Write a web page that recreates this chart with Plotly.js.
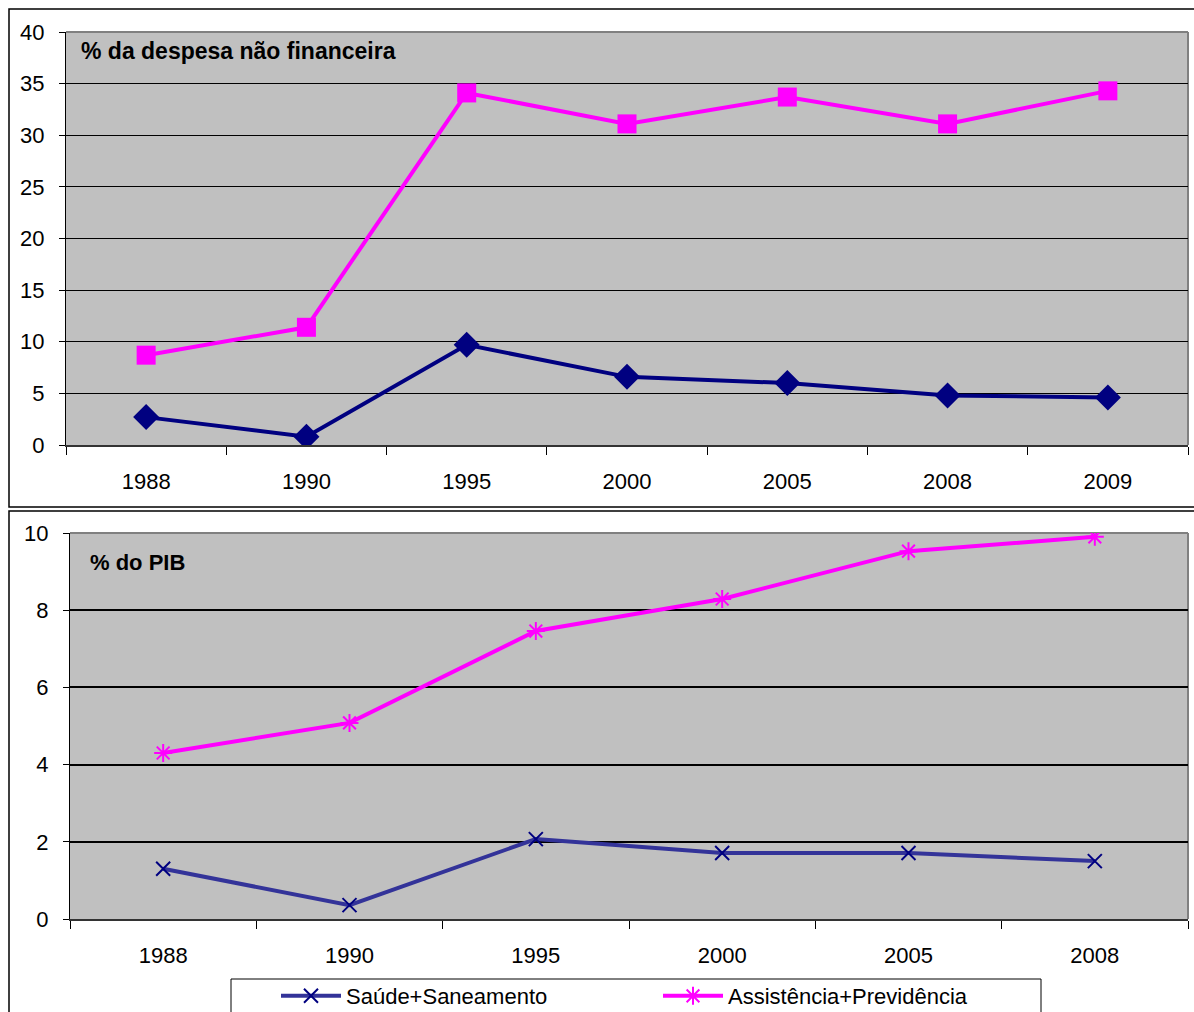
<!DOCTYPE html>
<html>
<head>
<meta charset="utf-8">
<script src="https://cdn.plot.ly/plotly-3.0.1.min.js"></script>
<style>
  html, body { margin: 0; padding: 0; background: #ffffff; overflow: hidden; }
  #chart { width: 1194px; height: 1012px; }
</style>
</head>
<body>
<div id="chart"></div>
<script>
// Gasto social: % da despesa não financeira (anos 1988–2009)
const anosDespesa = ['1988', '1990', '1995', '2000', '2005', '2008', '2009'];
const saudeDespesa = [2.7, 0.8, 9.7, 6.6, 6.0, 4.8, 4.6];
const assistDespesa = [8.7, 11.4, 34.1, 31.1, 33.7, 31.1, 34.3];

// Gasto social: % do PIB (anos 1988–2008)
const anosPib = ['1988', '1990', '1995', '2000', '2005', '2008'];
const saudePib = [1.3, 0.36, 2.07, 1.71, 1.71, 1.5];
const assistPib = [4.3, 5.08, 7.46, 8.29, 9.53, 9.9];

const nomeSaude = 'Saúde+Saneamento';
const nomeAssist = 'Assistência+Previdência';
const tituloDespesa = '% da despesa não financeira';
const tituloPib = '% do PIB';

const W = 1194, H = 1012;
const px = v => v / W;          // horizontal pixel -> paper fraction
const py = v => 1 - v / H;      // vertical pixel (from top) -> paper fraction

const FONT = 'Liberation Sans';
const NAVY = '#000080';
const NAVY_LINE = '#333399';
const PINK = '#ff00ff';

const traces = [
  {
    x: anosDespesa, y: assistDespesa, xaxis: 'x', yaxis: 'y',
    type: 'scatter', mode: 'lines+markers', name: nomeAssist, showlegend: false,
    line: { color: PINK, width: 4 },
    marker: { symbol: 'square', size: 19, color: PINK }
  },
  {
    x: anosDespesa, y: saudeDespesa, xaxis: 'x', yaxis: 'y',
    type: 'scatter', mode: 'lines+markers', name: nomeSaude, showlegend: false,
    line: { color: NAVY, width: 4 },
    marker: { symbol: 'diamond', size: 20, color: NAVY }
  },
  {
    x: anosPib, y: saudePib, xaxis: 'x2', yaxis: 'y2',
    type: 'scatter', mode: 'lines+markers', name: nomeSaude,
    line: { color: NAVY_LINE, width: 4 },
    marker: { symbol: 'x-thin-open', size: 14, color: NAVY, line: { color: NAVY, width: 2 } }
  },
  {
    x: anosPib, y: assistPib, xaxis: 'x2', yaxis: 'y2',
    type: 'scatter', mode: 'lines+markers', name: nomeAssist,
    line: { color: PINK, width: 4 },
    marker: { symbol: 'asterisk-open', size: 15, color: PINK, line: { color: PINK, width: 2 } }
  }
];

const eixoX = {
  type: 'category',
  tickson: 'boundaries',
  ticks: 'outside', ticklen: 8, tickwidth: 1, tickcolor: '#000000',
  showline: true, linecolor: '#333333', linewidth: 2,
  showgrid: false, zeroline: false,
  ticklabelstandoff: 16,
  tickfont: { family: FONT, size: 22, color: '#000000' },
  fixedrange: true
};

const eixoY = {
  ticks: 'outside', ticklen: 6, tickwidth: 1, tickcolor: '#000000',
  showline: true, linecolor: '#000000', linewidth: 1,
  showgrid: true, gridcolor: '#000000',
  zeroline: false,
  ticklabelstandoff: 10,
  tickfont: { family: FONT, size: 22, color: '#000000' },
  fixedrange: true
};

const layout = {
  width: W, height: H,
  margin: { l: 0, r: 0, t: 0, b: 0, autoexpand: false },
  paper_bgcolor: '#ffffff',
  plot_bgcolor: '#c0c0c0',
  font: { family: FONT, color: '#000000' },
  xaxis: Object.assign({}, eixoX, {
    domain: [px(66), px(1188)], anchor: 'y', range: [-0.5, anosDespesa.length - 0.5]
  }),
  yaxis: Object.assign({}, eixoY, {
    domain: [py(445), py(32)], anchor: 'x',
    range: [0, 40], dtick: 5, gridwidth: 1
  }),
  xaxis2: Object.assign({}, eixoX, {
    domain: [px(70), px(1188)], anchor: 'y2', range: [-0.5, anosPib.length - 0.5]
  }),
  yaxis2: Object.assign({}, eixoY, {
    domain: [py(919), py(533)], anchor: 'x2',
    range: [0, 10], dtick: 2, gridwidth: 2
  }),
  showlegend: true,
  legend: {
    orientation: 'h',
    x: px(276), xanchor: 'left',
    y: py(975), yanchor: 'top',
    bgcolor: 'rgba(255,255,255,0)', borderwidth: 0,
    font: { family: FONT, size: 22, color: '#000000' },
    itemwidth: 60,
    entrywidth: 307, entrywidthmode: 'pixels',
    traceorder: 'normal'
  },
  annotations: [
    {
      text: '<b>' + tituloDespesa + '</b>', xref: 'paper', yref: 'paper',
      x: px(79), y: py(51), xanchor: 'left', yanchor: 'middle', showarrow: false,
      font: { family: FONT, size: 23, color: '#000000' }
    },
    {
      text: '<b>' + tituloPib + '</b>', xref: 'paper', yref: 'paper',
      x: px(88), y: py(562), xanchor: 'left', yanchor: 'middle', showarrow: false,
      font: { family: FONT, size: 22, color: '#000000' }
    }
  ],
  shapes: [
    // outer frames around each chart
    { type: 'rect', xref: 'paper', yref: 'paper', x0: px(9), x1: 1.02, y0: py(507), y1: py(9),
      line: { color: '#000000', width: 1.5 }, fillcolor: 'rgba(0,0,0,0)', layer: 'below' },
    { type: 'rect', xref: 'paper', yref: 'paper', x0: px(9), x1: 1.02, y0: -0.05, y1: py(511),
      line: { color: '#000000', width: 1.5 }, fillcolor: 'rgba(0,0,0,0)', layer: 'below' },
    // legend box
    { type: 'rect', xref: 'paper', yref: 'paper', x0: px(231), x1: px(1041), y0: -0.05, y1: py(979),
      line: { color: '#000000', width: 1 }, fillcolor: '#ffffff', layer: 'below' },
    // gray top and right plot borders
    { type: 'line', xref: 'x domain', yref: 'y domain', x0: 0, x1: 1, y0: 1, y1: 1,
      line: { color: '#808080', width: 2 }, layer: 'below' },
    { type: 'line', xref: 'x domain', yref: 'y domain', x0: 1, x1: 1, y0: 0, y1: 1,
      line: { color: '#808080', width: 2 }, layer: 'below' },
    { type: 'line', xref: 'x2 domain', yref: 'y2 domain', x0: 0, x1: 1, y0: 1, y1: 1,
      line: { color: '#808080', width: 2 }, layer: 'below' },
    { type: 'line', xref: 'x2 domain', yref: 'y2 domain', x0: 1, x1: 1, y0: 0, y1: 1,
      line: { color: '#808080', width: 2 }, layer: 'below' }
  ]
};

Plotly.newPlot('chart', traces, layout, { displayModeBar: false, staticPlot: true });
</script>
</body>
</html>
